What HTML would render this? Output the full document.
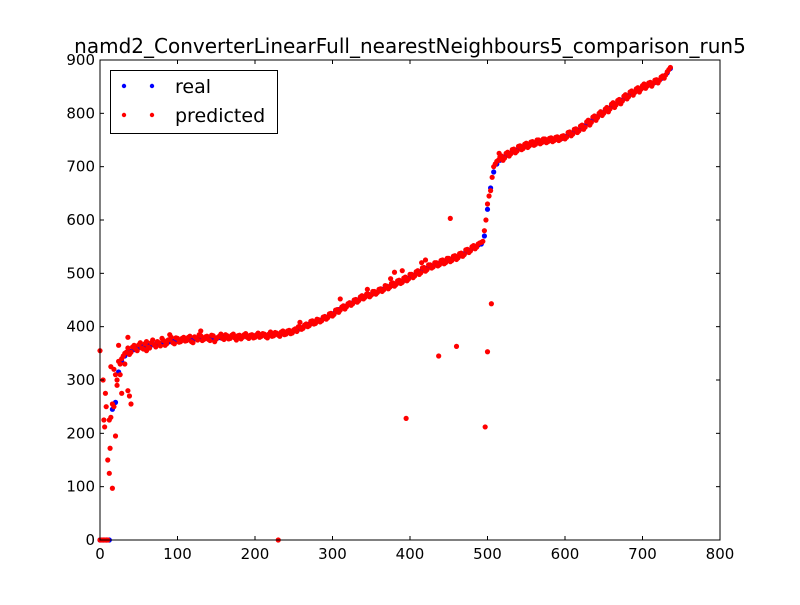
<!DOCTYPE html>
<html><head><meta charset="utf-8"><style>
html,body{margin:0;padding:0;background:#fff;}
svg text{font-family:"DejaVu Sans","Liberation Sans",sans-serif;}
</style></head><body>
<svg id="chart" width="800" height="600" viewBox="0 0 800 600" xmlns="http://www.w3.org/2000/svg">
<rect x="0" y="0" width="800" height="600" fill="#fff"/>
<text x="410" y="53" font-size="20" text-anchor="middle">namd2_ConverterLinearFull_nearestNeighbours5_comparison_run5</text>
<g id="marks"></g>
<g id="axes"></g>
<g>
<rect x="110.5" y="70.5" width="167" height="63" fill="#fff" stroke="#000" stroke-width="1"/>
<g>
<circle cx="124" cy="86" r="2.2" fill="#0000ff"/><circle cx="152" cy="86" r="2.2" fill="#0000ff"/>
<text x="175" y="93" font-size="19">real</text></g>
<g>
<circle cx="124" cy="115" r="2.2" fill="#ff0000"/><circle cx="152" cy="115" r="2.2" fill="#ff0000"/>
<text x="175" y="122" font-size="19">predicted</text></g>
</g>
</svg>
<script>
const xStart = 0, xStep = 4, xStart2 = 2;
const realValues = [0,0,0,0,245,258,315,335,345,350,354,357,359,361,363,364,365,366,367,368,369,370,371,372,373,
374,374,375,375,376,376,377,377,377,378,378,378,379,379,379,380,380,380,381,381,381,382,382,382,383,
383,383,384,384,384,385,385,386,386,387,388,389,390,392,395,398,401,404,406,408,410,412,415,418,421,
424,428,432,435,438,441,444,447,450,453,456,458,460,462,464,467,470,473,475,477,480,482,484,487,490,
493,496,500,503,506,509,512,514,516,518,520,522,524,526,528,530,533,536,540,543,547,550,553,555,570,
620,660,690,705,712,717,721,725,728,731,733,736,738,740,742,744,745,746,747,748,749,750,751,752,753,
756,760,763,766,768,771,775,780,785,789,793,797,801,805,809,813,817,820,824,828,832,836,839,842,845,
848,851,853,855,858,861,865,870,876,884];
const predictedValues = [0,0,0,225,255,310,335,340,350,360,352,365,355,370,358,372,360,375,362,370,378,365,375,380,368,
378,372,380,374,382,370,379,385,374,381,376,384,372,380,386,376,383,378,386,375,384,380,387,378,385,
380,388,382,386,379,390,383,388,382,392,386,393,388,396,400,395,403,400,410,405,414,409,418,414,424,
420,431,427,437,433,443,440,450,446,456,452,461,456,466,461,470,466,477,471,481,476,486,481,491,486,
498,492,503,498,510,504,516,510,520,514,524,518,528,522,532,526,537,532,544,539,550,546,555,558,580,
630,655,700,710,718,712,725,720,732,726,738,732,742,736,746,740,750,743,752,745,753,747,755,749,757,
752,764,758,770,764,776,770,784,778,793,787,800,796,808,803,817,811,824,818,832,827,840,834,846,840,
852,847,857,851,862,857,868,866,878,886];
const predictedValues2 = [0,0,0,230,250,300,330,345,352,348,362,358,366,360,368,362,370,366,372,364,374,368,376,370,379,
371,378,373,380,372,381,375,383,376,382,374,383,377,382,378,385,377,384,379,383,377,385,380,384,379,
385,380,387,381,386,382,389,384,390,385,392,387,394,391,399,397,405,402,411,406,413,411,419,417,425,
423,432,431,439,437,445,443,451,449,458,455,461,459,466,464,471,469,476,474,482,479,487,483,493,489,
498,495,505,501,511,507,516,512,520,516,525,520,528,524,533,529,538,535,545,542,552,549,557,560,600,
645,680,705,712,720,716,727,724,733,729,739,734,744,739,747,742,750,745,752,747,754,749,756,751,758,
755,765,761,771,767,778,774,787,783,795,792,803,800,811,808,820,816,826,823,835,831,842,839,848,845,
855,851,858,856,863,862,870,872,882];
const outlierX = [0,4,5,6,7,8,10,12,13,14,16,20,22,24,26,28,32,36,38,40,36,18,230,395,437,452,460,497,500,505,60,90,130,258,380,420,515,310,345,375,390,415];
const outlierY = [355,300,225,212,275,250,150,125,172,325,97,195,290,365,310,275,330,280,270,255,380,320,0,228,345,603,363,212,353,443,355,385,392,408,502,525,725,452,470,490,505,520];
const xTicks = [0,100,200,300,400,500,600,700,800];
const yTicks = [0,100,200,300,400,500,600,700,800,900];

const L=100,R=720,T=60,B=540;
const xs = v => L + (v-0)/(800-0)*(R-L);
const ys = v => B - (v-0)/(900-0)*(B-T);
const NS="http://www.w3.org/2000/svg";
const marks=document.getElementById('marks');
function dot(x,y,c,name){
  const el=document.createElementNS(NS,'circle');
  el.setAttribute('cx',xs(x));el.setAttribute('cy',ys(y));el.setAttribute('r',2.6);el.setAttribute('fill',c);
  
  
  marks.appendChild(el);
}
realValues.forEach((v,i)=>dot(xStart+i*xStep,v,'#0000ff','real-point'));
predictedValues.forEach((v,i)=>dot(xStart+i*xStep,v,'#ff0000','predicted-point'));
predictedValues2.forEach((v,i)=>dot(xStart2+i*xStep,v,'#ff0000','predicted-point'));
outlierX.forEach((x,i)=>dot(x,outlierY[i],'#ff0000','predicted-point'));

const axes=document.getElementById('axes');
function add(tag,attrs,name,text){
  const el=document.createElementNS(NS,tag);
  for(const k in attrs) el.setAttribute(k,attrs[k]);
  
  
  if(text!==undefined) el.textContent=text;
  axes.appendChild(el); return el;
}
add('rect',{x:L,y:T,width:R-L,height:B-T,fill:'none',stroke:'#000','stroke-width':1},'axes-frame');
xTicks.forEach(t=>{
  const x=xs(t);
  add('line',{x1:x,x2:x,y1:B,y2:B-4,stroke:'#000'},'x-tick');
  add('line',{x1:x,x2:x,y1:T,y2:T+4,stroke:'#000'},'x-tick-top');
  add('text',{x:x,y:B+19,'font-size':15,'text-anchor':'middle'},'x-tick-label',String(t));
});
yTicks.forEach(t=>{
  const y=ys(t);
  add('line',{x1:L,x2:L+4,y1:y,y2:y,stroke:'#000'},'y-tick');
  add('line',{x1:R,x2:R-4,y1:y,y2:y,stroke:'#000'},'y-tick-right');
  add('text',{x:L-5,y:y+5,'font-size':15,'text-anchor':'end'},'y-tick-label',String(t));
});
</script>
</body></html>
